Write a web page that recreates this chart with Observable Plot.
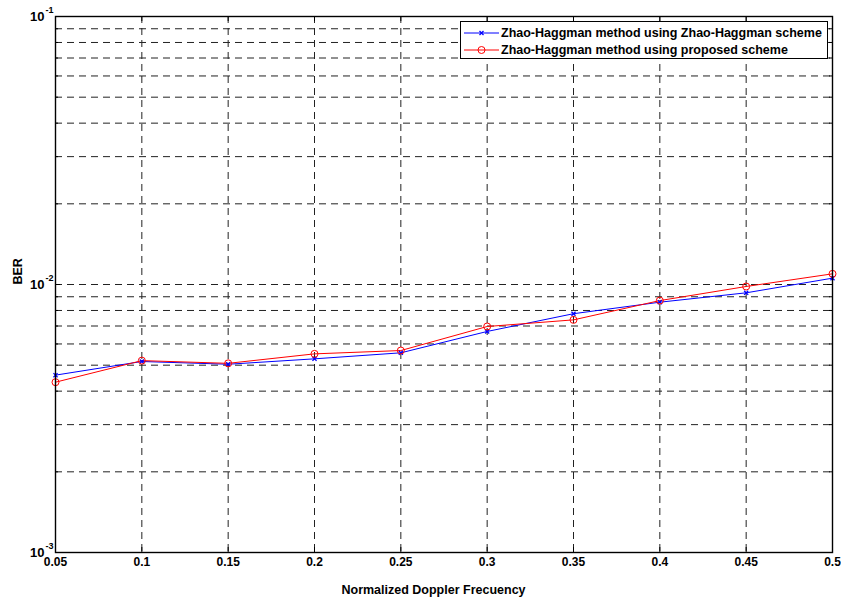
<!DOCTYPE html>
<html><head><meta charset="utf-8">
<script src="https://cdn.jsdelivr.net/npm/d3@7"></script>
<script src="https://cdn.jsdelivr.net/npm/@observablehq/plot@0.6"></script>
<style>
body{margin:0;background:#fff}
#wrap{position:relative;width:841px;height:601px;font-family:"Liberation Sans",Arial,sans-serif;font-weight:bold}
#legend{position:absolute;left:460px;top:21px;width:368px;height:38px;border:1px solid #000;background:#fff;box-sizing:border-box;padding:2px 0 0 2px}
#legend .row{display:flex;align-items:center;height:17px;font-size:12.5px;white-space:nowrap}
#legend svg{flex:none;margin-right:1px}
</style></head>
<body><div id="wrap"></div>
<script>
// ---- data ----
const freqs = [0.05, 0.1, 0.15, 0.2, 0.25, 0.3, 0.35, 0.4, 0.45, 0.5];
const berZhao = [4.59e-3, 5.16e-3, 5.04e-3, 5.28e-3, 5.56e-3, 6.68e-3, 7.78e-3, 8.59e-3, 9.31e-3, 1.056e-2];
const berProposed = [4.32e-3, 5.20e-3, 5.08e-3, 5.51e-3, 5.67e-3, 6.97e-3, 7.38e-3, 8.71e-3, 9.83e-3, 1.096e-2];
const seriesNames = ["Zhao-Haggman method using Zhao-Haggman scheme", "Zhao-Haggman method using proposed scheme"];
const seriesColors = ["#0000ff", "#ff0000"];
const xTicks = [0.05, 0.1, 0.15, 0.2, 0.25, 0.3, 0.35, 0.4, 0.45, 0.5];
const xTickLabels = ["0.05", "0.1", "0.15", "0.2", "0.25", "0.3", "0.35", "0.4", "0.45", "0.5"];
const yMajor = [1e-3, 1e-2, 1e-1];
const yMajorExp = ["-3", "-2", "-1"];
const yMinor = [2e-3, 3e-3, 4e-3, 5e-3, 6e-3, 7e-3, 8e-3, 9e-3, 2e-2, 3e-2, 4e-2, 5e-2, 6e-2, 7e-2, 8e-2, 9e-2];
const xLabel = "Normalized Doppler Frecuency";
const yLabel = "BER";

const W = 841, H = 601, mL = 55, mR = 9, mT = 16, mB = 49;
const iW = W - mL - mR, iH = H - mT - mB;

const zhao = freqs.map((x, i) => ({x, y: berZhao[i]}));
const prop = freqs.map((x, i) => ({x, y: berProposed[i]}));
const xGrid = xTicks.slice(1, -1);
const yGrid = yMinor.concat([1e-2]);
const font = '"Liberation Sans", Arial, sans-serif';

const chart = Plot.plot({
  width: W, height: H,
  marginLeft: mL, marginRight: mR, marginTop: mT, marginBottom: mB,
  x: {domain: [0.05, 0.5]},
  y: {type: "log", domain: [1e-3, 1e-1]},
  style: {fontFamily: font, fontWeight: "bold", fontSize: "12px", color: "#000", background: "#fff"},
  marks: [
    Plot.ruleX(xGrid, {x: d => d, stroke: "#222", strokeDasharray: "7,5"}),
    Plot.ruleY(yGrid, {y: d => d, stroke: "#222", strokeDasharray: "7,5"}),
    // inward ticks
    Plot.ruleX(xTicks, {x: d => d, insetTop: iH - 5, stroke: "#000"}),
    Plot.ruleX(xTicks, {x: d => d, insetBottom: iH - 5, stroke: "#000"}),
    Plot.ruleY(yMajor, {y: d => d, insetRight: iW - 5, stroke: "#000"}),
    Plot.ruleY(yMajor, {y: d => d, insetLeft: iW - 5, stroke: "#000"}),
    Plot.ruleY(yMinor, {y: d => d, insetRight: iW - 3, stroke: "#000"}),
    Plot.ruleY(yMinor, {y: d => d, insetLeft: iW - 3, stroke: "#000"}),
    // data
    Plot.line(zhao, {x: "x", y: "y", stroke: seriesColors[0], strokeWidth: 1}),
    Plot.line(prop, {x: "x", y: "y", stroke: seriesColors[1], strokeWidth: 1}),
    Plot.dot(zhao, {x: "x", y: "y", symbol: "times", r: 2, stroke: seriesColors[0], strokeWidth: 1.3}),
    Plot.dot(prop, {x: "x", y: "y", r: 3.5, stroke: seriesColors[1], fill: "none", strokeWidth: 1}),
    Plot.frame({stroke: "#000", strokeWidth: 1.4}),
    // axes labels
    Plot.axisX(xTicks, {tickSize: 0, tickPadding: 5, tickFormat: (d, i) => xTickLabels[i], fontSize: 12, fontWeight: "bold", label: null}),
    Plot.axisY({ticks: [], label: null, tickSize: 0}),
    Plot.text(yMajor, {y: d => d, text: () => "10", frameAnchor: "left", dx: -11, textAnchor: "end", fontSize: 13, fontWeight: "bold"}),
    Plot.text(yMajor, {y: d => d, text: (d, i) => yMajorExp[i], frameAnchor: "left", dx: -10, dy: -6, textAnchor: "start", fontSize: 9, fontWeight: "bold"}),
    Plot.text([yLabel], {text: d => d, frameAnchor: "left", dx: -38, rotate: -90, fontSize: 12.5, fontWeight: "bold"}),
    Plot.text([xLabel], {text: d => d, frameAnchor: "bottom", dy: 41, dx: -10.5, fontSize: 12.5, fontWeight: "bold"})
  ]
});

const wrap = document.getElementById("wrap");
wrap.appendChild(chart);

// legend
const legend = document.createElement("div");
legend.id = "legend";
seriesNames.forEach((name, i) => {
  const row = document.createElement("div");
  row.className = "row";
  const marker = i === 0
    ? `<path d="M16.5,7L20.5,11M20.5,7L16.5,11" stroke="${seriesColors[i]}" stroke-width="1.3" fill="none"/>`
    : `<circle cx="18.5" cy="9" r="3.5" stroke="${seriesColors[i]}" fill="none"/>`;
  row.innerHTML = `<svg width="37" height="17"><line x1="1" x2="36" y1="9" y2="9" stroke="${seriesColors[i]}" stroke-width="1"/>${marker}</svg><span>${name}</span>`;
  legend.appendChild(row);
});
wrap.appendChild(legend);
</script>
</body></html>
